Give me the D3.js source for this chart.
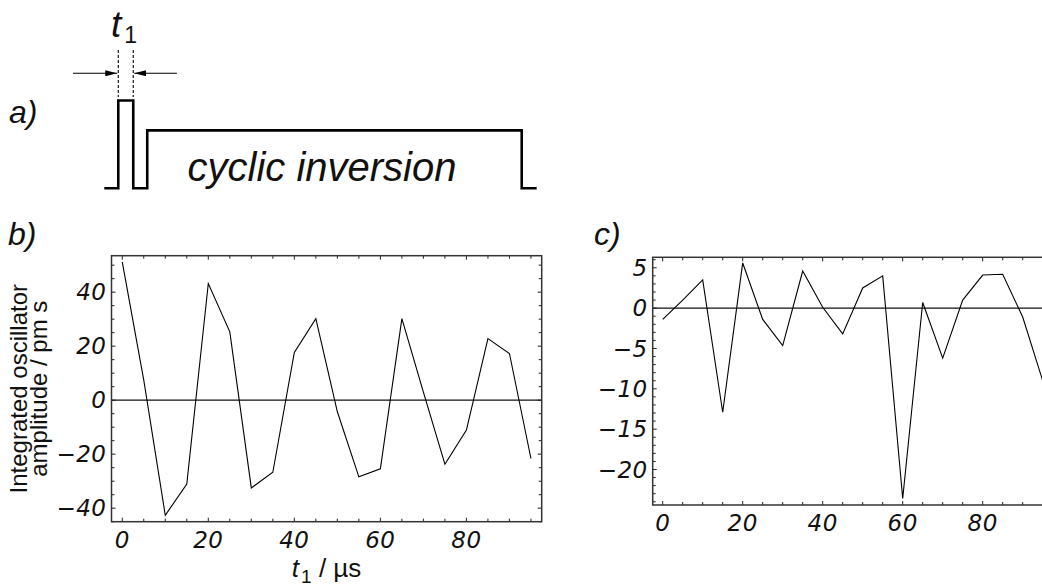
<!DOCTYPE html>
<html>
<head>
<meta charset="utf-8">
<script src="https://cdn.jsdelivr.net/npm/d3@7"></script>
<style>
  html, body { margin: 0; padding: 0; background: #fff; }
  svg { display: block; }
  text { font-family: "Liberation Sans", Arial, sans-serif; fill: #111; }
  text.tick { font-family: "DejaVu Sans", "Liberation Sans", sans-serif; }
</style>
</head>
<body>
<svg id="fig" width="1042" height="587"></svg>
<script>
// ---- pulse sequence (panel a): edge times and levels, arbitrary time units ----
const seqTimes  = [0, 14, 14, 29, 29, 43, 43, 418, 418, 433];
const seqLevels = [0, 0, 1, 1, 0, 0, 0.66, 0.66, 0, 0];

// ---- delay axis shared by panels b and c (µs) ----
const t1 = [0, 5, 10, 15, 20, 25, 30, 35, 40, 45, 50, 55, 60, 65, 70, 75, 80, 85, 90, 95];

// ---- panel b: integrated oscillator amplitude (pm s) ----
const ampB = [51.2, 7.4, -42.6, -31.1, 43.2, 25.3, -32.5, -26.7, 17.7, 30.2,
              -4.3, -28.4, -25.4, 30.2, 3.0, -23.7, -11.1, 22.8, 17.3, -21.6];

// ---- panel c ----
const ampC = [-1.4, 1.0, 3.5, -12.9, 5.6, -1.4, -4.65, 4.6, 0.1, -3.2,
              2.5, 4.0, -23.6, 0.7, -6.2, 1.0, 4.1, 4.2, -1.1, -9.0];

// tick values
const xTickLabels = [0, 20, 40, 60, 80];
const yTickLabelsB = [-40, -20, 0, 20, 40];
const yTickLabelsC = [-20, -15, -10, -5, 0, 5];

const svg = d3.select("#fig");
const fmt = v => (v < 0 ? "\u2212" + Math.abs(v) : String(v));

// ---------------- panel a ----------------
const xA = d3.scaleLinear().domain([0, 433]).range([104.3, 536.7]);
const yA = d3.scaleLinear().domain([0, 1]).range([188.3, 100.5]);
const gA = svg.append("g");

gA.append("path")
  .datum(d3.zip(seqTimes, seqLevels))
  .attr("d", d3.line().x(d => xA(d[0])).y(d => yA(d[1])))
  .attr("fill", "none").attr("stroke", "#000").attr("stroke-width", 2.6)
  .attr("stroke-linejoin", "miter").attr("stroke-linecap", "butt");

// dashed markers at the first pulse edges
[seqTimes[2], seqTimes[3]].forEach(t => {
  gA.append("line")
    .attr("x1", xA(t)).attr("x2", xA(t))
    .attr("y1", 50).attr("y2", 97)
    .attr("stroke", "#000").attr("stroke-width", 1.1)
    .attr("stroke-dasharray", "3,2");
});

// arrows pointing in at the pulse width
svg.append("defs").append("marker")
  .attr("id", "ah").attr("viewBox", "0 0 12 6")
  .attr("refX", 12).attr("refY", 3)
  .attr("markerWidth", 12).attr("markerHeight", 6)
  .attr("markerUnits", "userSpaceOnUse")
  .attr("orient", "auto")
  .append("path").attr("d", "M0,0 L12,3 L0,6 Z").attr("fill", "#000");

gA.append("line")
  .attr("x1", 73).attr("x2", xA(seqTimes[2]) - 1).attr("y1", 73.3).attr("y2", 73.3)
  .attr("stroke", "#000").attr("stroke-width", 1.1).attr("marker-end", "url(#ah)");
gA.append("line")
  .attr("x1", 177).attr("x2", xA(seqTimes[3]) + 1).attr("y1", 73.3).attr("y2", 73.3)
  .attr("stroke", "#000").attr("stroke-width", 1.1).attr("marker-end", "url(#ah)");

const tLab = gA.append("text").attr("x", 111).attr("y", 37).attr("font-size", 37);
tLab.append("tspan").attr("font-style", "italic").text("t");
tLab.append("tspan").attr("font-size", 23).attr("dy", 6).attr("dx", 3).text("1");

gA.append("text")
  .attr("x", 322).attr("y", 181)
  .attr("text-anchor", "middle").attr("font-size", 40).attr("font-style", "italic")
  .text("cyclic inversion");

// panel letters
[["a)", 9, 123], ["b)", 8, 245], ["c)", 594, 245]].forEach(([s, x, y]) => {
  svg.append("text").attr("x", x).attr("y", y)
    .attr("font-size", 32).attr("font-style", "italic").text(s);
});

// ---------------- framed line panels ----------------
function panel(opts) {
  const { x, y, values, xLabels, yLabels, yMinorStep } = opts;
  const g = svg.append("g");
  const [x0, x1] = x.range();
  const [y0, y1] = y.range(); // y0 bottom, y1 top

  // minor/major ticks on all four sides, pointing inward
  const xt = d3.range(0, 96, 5);
  const yt = d3.range(Math.ceil(y.domain()[0] / yMinorStep) * yMinorStep,
                      y.domain()[1] + 1e-9, yMinorStep);
  const tk = g.append("g").attr("stroke", "#222").attr("stroke-width", 1);
  xt.forEach(v => {
    const L = xLabels.includes(v) ? 4 : 3;
    tk.append("line").attr("x1", x(v)).attr("x2", x(v)).attr("y1", y0).attr("y2", y0 - L);
    tk.append("line").attr("x1", x(v)).attr("x2", x(v)).attr("y1", y1).attr("y2", y1 + L);
  });
  yt.forEach(v => {
    const L = yLabels.includes(Math.round(v)) && Math.abs(v - Math.round(v)) < 1e-9 ? 4 : 3;
    tk.append("line").attr("y1", y(v)).attr("y2", y(v)).attr("x1", x0).attr("x2", x0 + L);
    tk.append("line").attr("y1", y(v)).attr("y2", y(v)).attr("x1", x1).attr("x2", x1 - L);
  });

  // zero line
  g.append("line").attr("x1", x0).attr("x2", x1).attr("y1", y(0)).attr("y2", y(0))
    .attr("stroke", "#111").attr("stroke-width", 1.2);

  // data
  g.append("path")
    .datum(d3.zip(t1, values))
    .attr("d", d3.line().x(d => x(d[0])).y(d => y(d[1])))
    .attr("fill", "none").attr("stroke", "#000").attr("stroke-width", 1.1)
    .attr("stroke-linejoin", "miter");

  // frame
  g.append("rect").attr("x", x0).attr("y", y1).attr("width", x1 - x0).attr("height", y0 - y1)
    .attr("fill", "none").attr("stroke", "#333").attr("stroke-width", 1.5);

  // tick labels
  xLabels.forEach(v => {
    g.append("text").attr("class", "tick").attr("x", x(v)).attr("y", y0 + 26)
      .attr("text-anchor", "middle").attr("font-size", 23).attr("font-style", "italic")
      .attr("letter-spacing", 0.5)
      .text(fmt(v));
  });
  yLabels.forEach(v => {
    g.append("text").attr("class", "tick").attr("x", x0 - 5).attr("y", y(v)).attr("dy", "0.36em")
      .attr("text-anchor", "end").attr("font-size", 23).attr("font-style", "italic")
      .attr("letter-spacing", 0.5)
      .text(fmt(v));
  });
  return g;
}

const xB = d3.scaleLinear().domain([-2.5, 97.5]).range([111.5, 541.7]);
const yB = d3.scaleLinear().domain([-45, 53.5]).range([521.7, 255.7]);
panel({ x: xB, y: yB, values: ampB, xLabels: xTickLabels, yLabels: yTickLabelsB, yMinorStep: 5 });

const xC = d3.scaleLinear().domain([-2.5, 97.5]).range([652.7, 1052.7]);
const yC = d3.scaleLinear().domain([-24.4, 6.3]).range([505, 257.3]);
panel({ x: xC, y: yC, values: ampC, xLabels: xTickLabels, yLabels: yTickLabelsC, yMinorStep: 1 });

// axis titles for panel b
const yMid = (yB.range()[0] + yB.range()[1]) / 2;
const yl = svg.append("text").attr("transform", `translate(27,${yMid}) rotate(-90)`)
  .attr("text-anchor", "middle").attr("font-size", 24);
yl.append("tspan").attr("x", 0).attr("y", 0).text("Integrated oscillator");
yl.append("tspan").attr("x", 0).attr("y", 20).text("amplitude / pm s");

const xMid = (xB.range()[0] + xB.range()[1]) / 2;
const xl = svg.append("text").attr("x", xMid).attr("y", 577)
  .attr("text-anchor", "middle").attr("font-size", 26);
xl.append("tspan").attr("font-style", "italic").text("t");
xl.append("tspan").attr("font-size", 19).attr("dy", 6).attr("dx", 2).text("1");
xl.append("tspan").attr("dy", -6).text(" / \u00b5s");
</script>
</body>
</html>
